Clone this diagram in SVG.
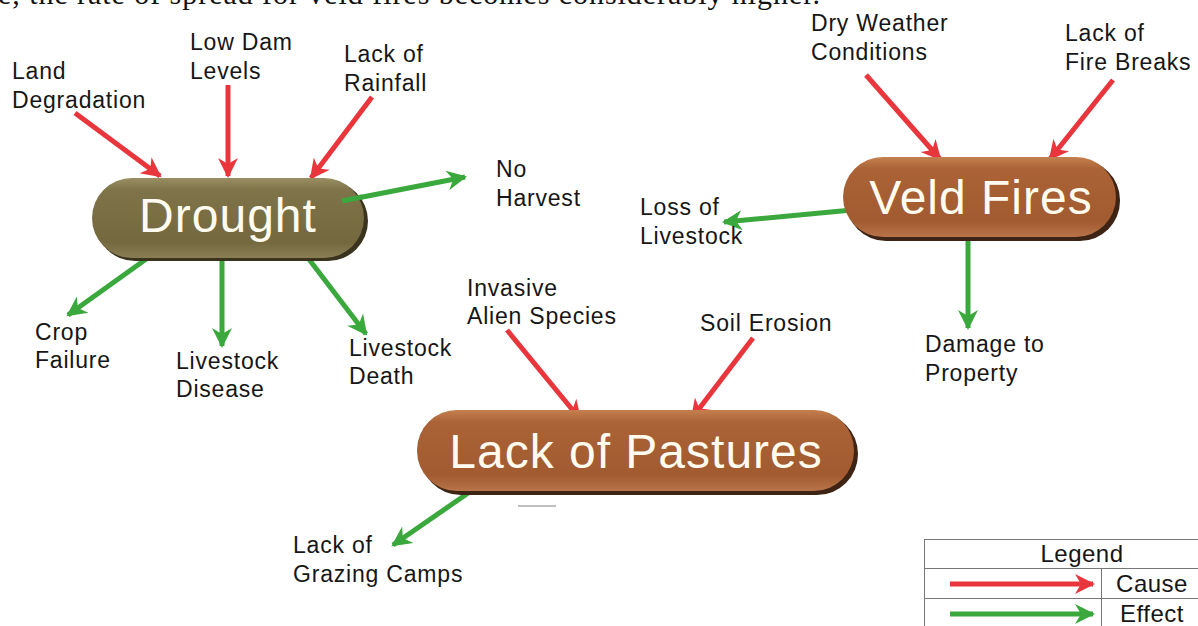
<svg xmlns="http://www.w3.org/2000/svg" width="1198" height="626" viewBox="0 0 1198 626">
<style>
.lbl{font-family:"Liberation Sans",Arial,sans-serif;font-size:23px;letter-spacing:0.8px;fill:#161616}
.big{font-family:"Liberation Sans",Arial,sans-serif;font-size:48px;letter-spacing:1px;fill:#fffbef;text-anchor:middle}
.cause{stroke:#e8363c;stroke-width:5;fill:none;marker-end:url(#ah-r)}
.effect{stroke:#3aa83c;stroke-width:5;fill:none;marker-end:url(#ah-g)}
.leg{font-family:"Liberation Sans",Arial,sans-serif;font-size:24px;letter-spacing:0.5px;fill:#161616;text-anchor:middle}
.cell{fill:none;stroke:#777;stroke-width:1}
</style>
<defs>
<marker id="ah-r" viewBox="0 0 10 10" refX="9" refY="5" markerWidth="5" markerHeight="4" orient="auto" markerUnits="strokeWidth">
<path d="M0,0 L10,5 L0,10 L3,5 Z" fill="#e8363c"/>
</marker>
<marker id="ah-g" viewBox="0 0 10 10" refX="9" refY="5" markerWidth="5" markerHeight="4" orient="auto" markerUnits="strokeWidth">
<path d="M0,0 L10,5 L0,10 L3,5 Z" fill="#3aa83c"/>
</marker>
<linearGradient id="olive" x1="0" y1="0" x2="0" y2="1">
<stop offset="0" stop-color="#9a8e63"/>
<stop offset="0.15" stop-color="#7f7349"/>
<stop offset="0.8" stop-color="#74683f"/>
<stop offset="1" stop-color="#8a7e55"/>
</linearGradient>
<linearGradient id="brown" x1="0" y1="0" x2="0" y2="1">
<stop offset="0" stop-color="#c5804f"/>
<stop offset="0.15" stop-color="#aa6236"/>
<stop offset="0.8" stop-color="#a25a30"/>
<stop offset="1" stop-color="#b8744a"/>
</linearGradient>
</defs>
<rect width="1198" height="626" fill="#ffffff"/>
<text x="-2" y="4" font-family="Liberation Serif,Times New Roman,serif" font-size="30" textLength="822" lengthAdjust="spacing" fill="#111">e, the rate of spread for veld fires becomes considerably higher.</text>

<g id="connectors">
<line class="cause" x1="75" y1="113" x2="160" y2="176"/>
<line class="cause" x1="228" y1="85" x2="228" y2="176"/>
<line class="cause" x1="372" y1="97" x2="311" y2="178"/>
<line class="cause" x1="866" y1="75" x2="940" y2="159"/>
<line class="cause" x1="1113" y1="80" x2="1050" y2="159"/>
<line class="cause" x1="507" y1="330" x2="580" y2="419"/>
<line class="cause" x1="753" y1="338" x2="692" y2="418"/>
<line class="effect" x1="342" y1="201" x2="465" y2="177"/>
<line class="effect" x1="156" y1="252" x2="68" y2="315"/>
<line class="effect" x1="222" y1="258" x2="222" y2="346"/>
<line class="effect" x1="308" y1="258" x2="366" y2="334"/>
<line class="effect" x1="852" y1="210" x2="724" y2="222"/>
<line class="effect" x1="968" y1="230" x2="968" y2="328"/>
<line class="effect" x1="487" y1="480" x2="393" y2="545"/>
</g>

<g id="drought">
<rect x="95" y="181" width="273" height="80" rx="40" fill="#3a341f"/>
<rect x="92" y="178" width="272" height="80" rx="40" fill="url(#olive)"/>
<line x1="342" y1="201" x2="362" y2="197" stroke="#3aa83c" stroke-width="5"/>
<text class="big" x="228" y="232">Drought</text>
</g>

<g id="veld-fires">
<rect x="846" y="160" width="274" height="81" rx="40" fill="#3d2414"/>
<rect x="843" y="157" width="273" height="80" rx="40" fill="url(#brown)"/>
<text class="big" x="981" y="214">Veld Fires</text>
</g>

<g id="lack-of-pastures">
<rect x="420" y="413" width="438" height="82" rx="41" fill="#3d2414"/>
<rect x="417" y="410" width="437" height="81" rx="40" fill="url(#brown)"/>
<text class="big" x="636" y="468">Lack of Pastures</text>
</g>
<line x1="518" y1="506" x2="556" y2="506" stroke="#aaa" stroke-width="1.5"/>

<g id="labels">
<text class="lbl" x="12" y="79">Land</text>
<text class="lbl" x="12" y="108">Degradation</text>
<text class="lbl" x="190" y="50">Low Dam</text>
<text class="lbl" x="190" y="79">Levels</text>
<text class="lbl" x="344" y="62">Lack of</text>
<text class="lbl" x="344" y="91">Rainfall</text>
<text class="lbl" x="496" y="177">No</text>
<text class="lbl" x="496" y="206">Harvest</text>
<text class="lbl" x="811" y="31">Dry Weather</text>
<text class="lbl" x="811" y="60">Conditions</text>
<text class="lbl" x="1065" y="41">Lack of</text>
<text class="lbl" x="1065" y="70">Fire Breaks</text>
<text class="lbl" x="640" y="215">Loss of</text>
<text class="lbl" x="640" y="244">Livestock</text>
<text class="lbl" x="35" y="340">Crop</text>
<text class="lbl" x="35" y="368">Failure</text>
<text class="lbl" x="176" y="369">Livestock</text>
<text class="lbl" x="176" y="397">Disease</text>
<text class="lbl" x="349" y="356">Livestock</text>
<text class="lbl" x="349" y="384">Death</text>
<text class="lbl" x="467" y="296">Invasive</text>
<text class="lbl" x="467" y="324">Alien Species</text>
<text class="lbl" x="700" y="331">Soil Erosion</text>
<text class="lbl" x="925" y="352">Damage to</text>
<text class="lbl" x="925" y="381">Property</text>
<text class="lbl" x="293" y="553">Lack of</text>
<text class="lbl" x="293" y="582">Grazing Camps</text>
</g>

<g id="legend">
<rect class="cell" x="924.5" y="539.5" width="280" height="90"/>
<line class="cell" x1="924" y1="568.5" x2="1198" y2="568.5"/>
<line class="cell" x1="924" y1="598.5" x2="1198" y2="598.5"/>
<line class="cell" x1="1101.5" y1="568" x2="1101.5" y2="626"/>
<text class="leg" x="1082" y="562">Legend</text>
<text class="leg" x="1152" y="592">Cause</text>
<text class="leg" x="1152" y="622">Effect</text>
<line class="cause" x1="950" y1="584" x2="1093" y2="584"/>
<line class="effect" x1="950" y1="614" x2="1093" y2="614"/>
</g>
</svg>
